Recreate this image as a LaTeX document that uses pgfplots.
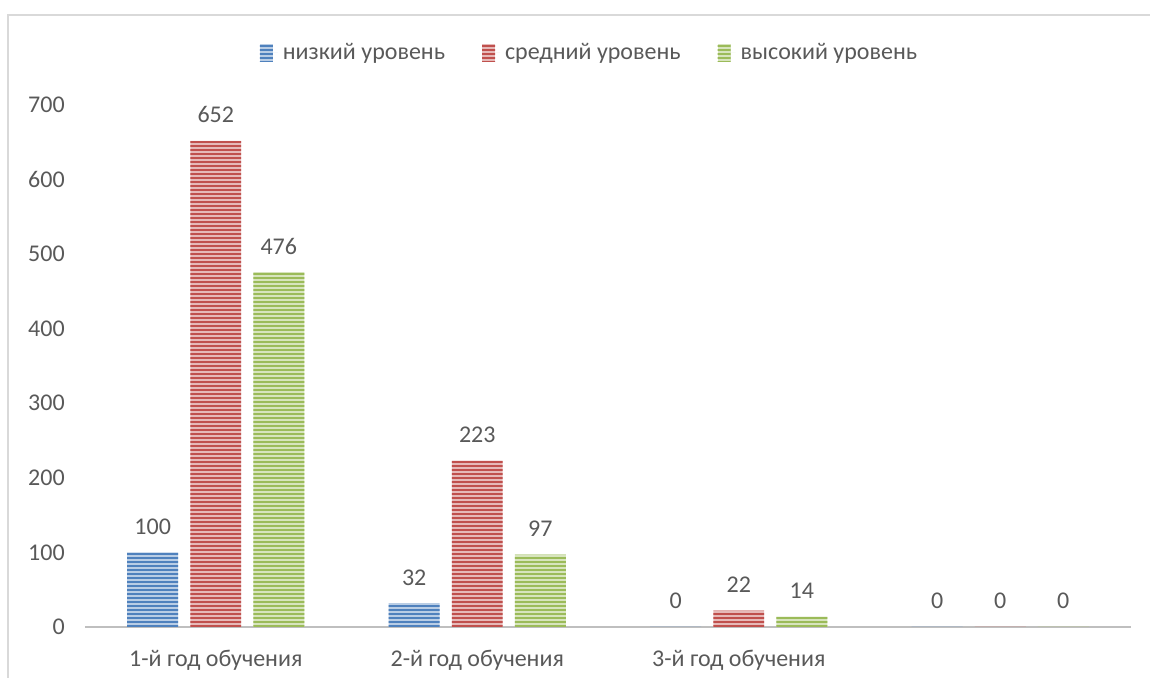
\documentclass[border=0pt]{standalone}
\usepackage{fontspec}
\setmainfont{Carlito}
\usepackage{pgfplots}
\pgfplotsset{compat=1.18}
\usetikzlibrary{patterns.meta}

\definecolor{lowc}{HTML}{4F81BD}
\definecolor{midc}{HTML}{C0504D}
\definecolor{highc}{HTML}{9BBB59}
\definecolor{txt}{HTML}{595959}
\definecolor{axc}{HTML}{BFBFBF}
\definecolor{framec}{HTML}{D9D9D9}

\pgfplotsset{
  stripes/.style={
    fill=#1!40!white, draw=none,
    postaction={pattern={Lines[angle=0,distance=1.6pt,line width=0.75pt]}, pattern color=#1}
  }
}

\begin{document}
\begin{tikzpicture}[font=\fontsize{9.6}{11.5}\selectfont, text=txt]
\begin{axis}[
    name=ax,
    scale only axis,
    width=418.4pt, height=208.8pt,
    ybar,
    bar width=0.195,
    xmin=-0.5, xmax=3.5,
    ymin=0, ymax=700,
    xtick={0,1,2,3},
    xticklabels={1-й год обучения,2-й год обучения,3-й год обучения,},
    ytick={0,100,...,700},
    axis line style={draw=none},
    axis x line*=bottom,
    x axis line style={draw=axc, line width=1.1pt},
    tick style={draw=none},
    major tick length=0pt,
    yticklabel style={xshift=-4.6pt, text=txt},
    xticklabel style={yshift=-5.6pt, text=txt},
    /pgf/number format/assume math mode=true,
    nodes near coords,
    every node near coord/.append style={text=txt, yshift=3.6pt},
    legend style={at={(0.5,1)}, anchor=center, xshift=-6.8pt, yshift=20.8pt,
      draw=none, fill=none, legend columns=3,
      /tikz/every even column/.append style={column sep=12.8pt},
      text=txt},
    legend image code/.code={\fill[#1] (0pt,-3.6pt) rectangle (5.2pt,3.6pt);
      \path (0pt,0pt) -- (7.2pt,0pt);},
    clip=false,
]
\addplot[stripes=lowc, bar shift=-0.241] coordinates {(0,100) (1,32) (2,0) (3,0)};
\addplot[stripes=midc, bar shift=0] coordinates {(0,652) (1,223) (2,22) (3,0)};
\addplot[stripes=highc, bar shift=0.241] coordinates {(0,476) (1,97) (2,14) (3,0)};
\legend{низкий уровень,средний уровень,высокий уровень}
\end{axis}
\draw[framec, line width=0.8pt] ([xshift=-30.8pt,yshift=-30pt]ax.south west) -- ([xshift=-30.8pt,yshift=36pt]ax.north west) -- ([xshift=12pt,yshift=36pt]ax.north east);
\pgfresetboundingbox
\path[use as bounding box] ([xshift=-34pt,yshift=-20.4pt]ax.south west) rectangle ([xshift=7.6pt,yshift=42pt]ax.north east);
\end{tikzpicture}
\end{document}
